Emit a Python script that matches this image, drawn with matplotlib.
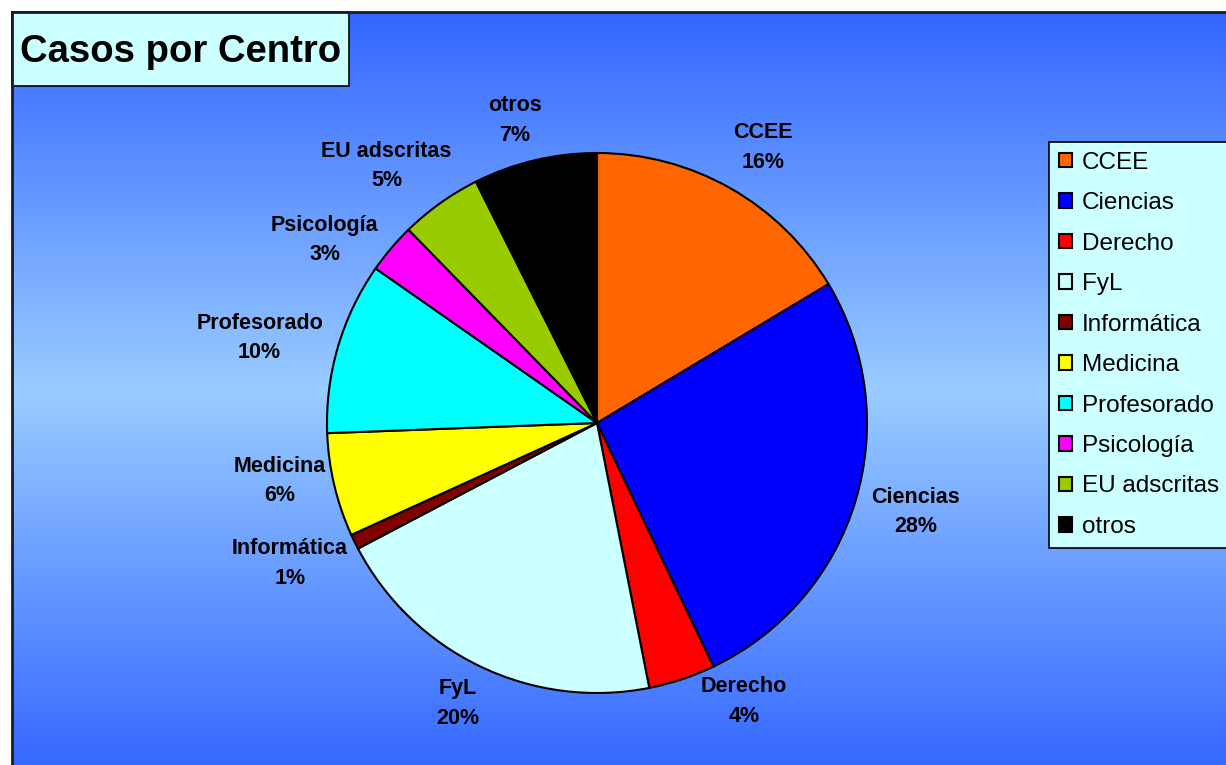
import numpy as np
import matplotlib
matplotlib.use("Agg")
import matplotlib.pyplot as plt
from matplotlib.patches import Rectangle
from matplotlib.colors import to_rgb

# data (share of each slice, clockwise from 12 o'clock)
centros = ["CCEE", "Ciencias", "Derecho", "FyL", "Informática", "Medicina",
           "Profesorado", "Psicología", "EU adscritas", "otros"]
valores = [16.4, 26.5, 4.0, 20.4, 0.9, 6.2, 10.3, 3.0, 4.9, 7.4]
etiquetas_pct = ["16%", "28%", "4%", "20%", "1%", "6%", "10%", "3%", "5%", "7%"]
colores = ["#FF6600", "#0000FF", "#FF0000", "#CCFFFF", "#800000", "#FFFF00",
           "#00FFFF", "#FF00FF", "#99CC00", "#000000"]
titulo = "Casos por Centro"

# label centres, in pie-radius units
pos_etiquetas = [(0.615, 1.02), (1.18, -0.33), (0.545, -1.03), (-0.515, -1.04),
                 (-1.137, -0.52), (-1.175, -0.215), (-1.25, 0.315), (-1.008, 0.678),
                 (-0.78, 0.952), (-0.305, 1.12)]

plt.rcParams['font.family'] = ['Liberation Sans', 'DejaVu Sans']

W, H = 1226, 765
fig = plt.figure(figsize=(W / 100, H / 100), dpi=100, facecolor="white")

# background: chart area with vertical gradient
bg = fig.add_axes([0, 0, 1, 1])
bg.set_xlim(0, W)
bg.set_ylim(H, 0)
bg.axis("off")
dark = np.array(to_rgb("#3366FF"))
light = np.array(to_rgb("#99CCFF"))
ys = np.linspace(12, H + 10, 400)
t = np.where(ys < 390, (ys - 12) / (390 - 12), (H + 10 - ys) / (H + 10 - 390))
grad = dark[None, :] * (1 - t[:, None]) + light[None, :] * t[:, None]
bg.imshow(grad[:, None, :], extent=(12, W + 10, H + 10, 12), aspect="auto",
          interpolation="bilinear")
bg.plot([12, 12], [12, H + 10], color="#1a1a2a", lw=2)
bg.plot([12, W + 10], [12, 12], color="#1a1a2a", lw=2)

# title box
bg.add_patch(Rectangle((12, 12), 337, 74, facecolor="#CCFFFF", edgecolor="black", lw=1.2))
bg.text(20, 52, titulo, fontsize=27.5, fontweight="bold", va="center", ha="left")

# pie
cx, cy, r = 597, 423, 270
ax = fig.add_axes([(cx - r) / W, (H - cy - r) / H, 2 * r / W, 2 * r / H])
wedges, _ = ax.pie(valores, colors=colores, startangle=90, counterclock=False,
                   wedgeprops=dict(edgecolor="black", linewidth=1.5))
ax.set_xlim(-1, 1)
ax.set_ylim(-1, 1)
ax.set_aspect("equal")

for (x, y), nombre, pct in zip(pos_etiquetas, centros, etiquetas_pct):
    ax.text(x, y, f"{nombre}\n{pct}", ha="center", va="center", fontsize=15.5,
            fontweight="bold", linespacing=1.55)

leg = fig.legend(wedges, centros, loc="upper left",
                 bbox_to_anchor=(1049 / W, 1 - 142 / H), borderaxespad=0,
                 fontsize=17.5, handlelength=0.55, handleheight=0.55,
                 handletextpad=0.4, labelspacing=0.76, borderpad=0.4,
                 fancybox=False, framealpha=1, facecolor="#CCFFFF",
                 edgecolor="black")
leg.get_frame().set_linewidth(1.2)
for h in leg.legend_handles:
    h.set_linewidth(1.5)

fig.savefig("out.png", dpi=100)
